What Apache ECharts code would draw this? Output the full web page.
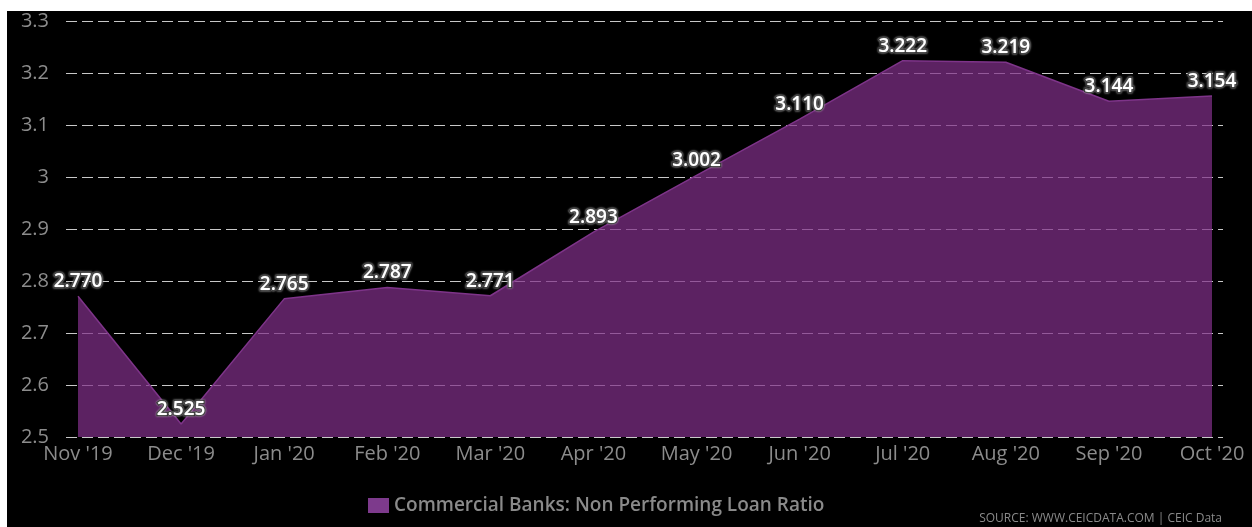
<!DOCTYPE html>
<html><head><meta charset="utf-8">
<script src="https://cdn.jsdelivr.net/npm/echarts@6/dist/echarts.min.js"></script>
<style>
html,body{margin:0;padding:0;background:#fff;width:1252px;height:527px;overflow:hidden}
#c{position:absolute;left:7px;top:11px;width:1245px;height:516px;background:#000}
</style></head>
<body><div id="c"></div>
<script>
const categories = ["Nov '19","Dec '19","Jan '20","Feb '20","Mar '20","Apr '20","May '20","Jun '20","Jul '20","Aug '20","Sep '20","Oct '20"];
const npl = [2.770, 2.525, 2.765, 2.787, 2.771, 2.893, 3.002, 3.110, 3.222, 3.219, 3.144, 3.154];
const yTicks = [2.5, 2.6, 2.7, 2.8, 2.9, 3, 3.1, 3.2, 3.3];
const seriesName = 'Commercial Banks: Non Performing Loan Ratio';

const font = '"Open Sans", "DejaVu Sans", sans-serif';
const chart = echarts.init(document.getElementById('c'));
chart.setOption({
  backgroundColor: '#000',
  animation: false,
  grid: [
    {left: 71, right: 40, top: 9, bottom: 90},
    {left: 59, right: 29, top: 9, bottom: 90}
  ],
  xAxis: [
    {type: 'category', gridIndex: 0, data: categories, boundaryGap: false,
     axisLine: {show: false}, axisTick: {show: false},
     axisLabel: {color: '#8c8c8c', fontSize: 20, fontFamily: font, margin: 7, interval: 0}},
    {type: 'value', gridIndex: 1, min: 0, max: 1, show: false}
  ],
  yAxis: [
    {type: 'value', gridIndex: 0, min: yTicks[0], max: yTicks[yTicks.length-1], interval: 0.1,
     axisLine: {show: false}, axisTick: {show: false}, splitLine: {show: false},
     axisLabel: {show: false}},
    {type: 'value', gridIndex: 1, min: yTicks[0], max: yTicks[yTicks.length-1], interval: 0.1,
     axisLine: {show: false}, axisTick: {show: false},
     splitLine: {show: true, lineStyle: {color: '#c8c8c8', type: [11, 5], width: 1}},
     axisLabel: {color: '#8c8c8c', fontSize: 20, fontFamily: font, margin: 17,
       formatter: v => { const t = yTicks.find(x => Math.abs(x - v) < 1e-6); return t === undefined ? '' : String(t); }}}
  ],
  legend: {
    left: 356, top: 480,
    itemWidth: 21, itemHeight: 15, itemGap: 6,
    icon: 'rect',
    textStyle: {color: '#8a8a8a', fontSize: 19, fontFamily: font, fontWeight: 600},
    data: [{name: seriesName, itemStyle: {color: '#7d3a8c'}}]
  },
  series: [{
    name: seriesName, type: 'line', xAxisIndex: 0, yAxisIndex: 0,
    data: npl, symbol: 'circle', symbolSize: 0.01, showSymbol: true, z: 3,
    lineStyle: {color: '#7e3489', width: 1.5},
    itemStyle: {color: '#7d3a8c'},
    areaStyle: {color: '#7f2f88', opacity: 0.72, origin: 'start'},
    labelLayout: {hideOverlap: false},
    label: {show: true, position: 'top', distance: 5,
      formatter: p => p.value.toFixed(3),
      color: '#ffffff', fontSize: 19, fontFamily: font, fontWeight: 600,
      textBorderColor: '#2a2a2a', textBorderWidth: 2.5,
      textShadowColor: 'rgba(200,200,200,0.9)', textShadowBlur: 2}
  }],
  graphic: [{
    type: 'text', right: 30, bottom: 2,
    style: {text: 'SOURCE: WWW.CEICDATA.COM | CEIC Data', fill: '#8a8a8a', fontSize: 12, fontFamily: font}
  }]
});
</script></body></html>
